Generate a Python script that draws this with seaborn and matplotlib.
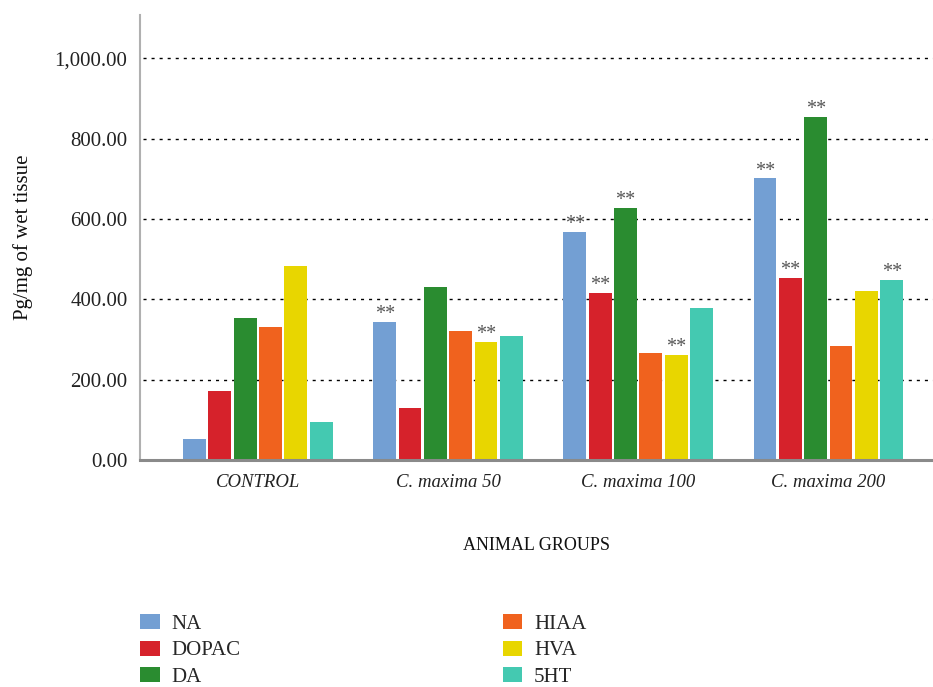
import matplotlib
matplotlib.use("Agg")
import matplotlib.pyplot as plt
import seaborn as sns
import pandas as pd
from matplotlib.patches import Patch

# Animal groups and measured neurotransmitters (pg/mg of wet tissue)
groups = ["CONTROL", "C. maxima 50", "C. maxima 100", "C. maxima 200"]
transmitters = ["NA", "DOPAC", "DA", "HIAA", "HVA", "5HT"]

na_vals = [53, 344, 568, 701]
dopac_vals = [172, 129, 417, 454]
da_vals = [354, 431, 627, 853]
hiaa_vals = [331, 321, 266, 285]
hva_vals = [484, 295, 262, 421]
ht5_vals = [94, 310, 378, 449]

# Significance marks (group, transmitter)
significant = [
    ("C. maxima 50", "NA"), ("C. maxima 50", "HVA"),
    ("C. maxima 100", "NA"), ("C. maxima 100", "DOPAC"),
    ("C. maxima 100", "DA"), ("C. maxima 100", "HVA"),
    ("C. maxima 200", "NA"), ("C. maxima 200", "DOPAC"),
    ("C. maxima 200", "DA"), ("C. maxima 200", "5HT"),
]

colors = ["#739FD3", "#D6222B", "#2A8C30", "#F0621E", "#E8D600", "#44C9B1"]

series = [na_vals, dopac_vals, da_vals, hiaa_vals, hva_vals, ht5_vals]
df = pd.DataFrame(
    [(g, t, vals[i]) for t, vals in zip(transmitters, series) for i, g in enumerate(groups)],
    columns=["group", "transmitter", "value"],
)

sns.set_theme(style="white")
plt.rcParams["font.family"] = ["Liberation Serif", "DejaVu Serif"]

fig = plt.figure(figsize=(9.33, 6.87), dpi=100)
ax = fig.add_axes([0.150, 0.3304, 0.850, 0.6478])

sns.barplot(
    data=df, x="group", y="value", hue="transmitter",
    order=groups, hue_order=transmitters, palette=colors,
    width=0.8, gap=0.1, linewidth=0, saturation=1, legend=False, ax=ax,
)

ax.set_xlim(-0.62, 3.55)
ax.set_ylim(0, 1108)
ax.set_yticks([0, 200, 400, 600, 800, 1000])
ax.set_yticklabels([f"{v:,.2f}" for v in [0, 200, 400, 600, 800, 1000]], fontsize=15)
ax.set_xticks(range(len(groups)))
ax.set_xticklabels(groups, fontsize=13.5, fontstyle="italic")
ax.tick_params(axis="both", length=0, colors="#222222")
ax.tick_params(axis="y", pad=9)
ax.tick_params(axis="x", pad=10)

for v in [200, 400, 600, 800, 1000]:
    ax.axhline(v, xmin=0.004, color="black", lw=1.0, ls=(0, (2.2, 3.6)), zorder=0)

for side in ["top", "right"]:
    ax.spines[side].set_visible(False)
ax.spines["left"].set_color("#b0b0b0")
ax.spines["left"].set_linewidth(1.5)
ax.spines["bottom"].set_color("#8a8a8a")
ax.spines["bottom"].set_linewidth(2.2)
ax.spines["bottom"].set_zorder(5)

ax.set_xlabel("ANIMAL GROUPS", fontsize=13, color="#111111")
ax.xaxis.set_label_coords(0.5, -0.172)
ax.set_ylabel("Pg/mg of wet tissue", fontsize=15, color="#111111")
ax.yaxis.label.set_va("center")
ax.yaxis.set_label_coords(-0.148, 0.5)

# Significance asterisks above the marked bars
for t_idx, container in enumerate(ax.containers):
    t = transmitters[t_idx]
    for g_idx, bar in enumerate(container):
        if (groups[g_idx], t) in significant:
            ax.annotate(
                "**", (bar.get_x() + bar.get_width() / 2, bar.get_height()),
                xytext=(0, -1.5), textcoords="offset points",
                ha="center", va="bottom", fontsize=14.5, color="#555555",
            )

handles = [Patch(facecolor=c, edgecolor="none") for c in colors]
fig.legend(
    handles, transmitters, ncol=2, loc="upper left",
    bbox_to_anchor=(0.150, 1 - 614 / 687), frameon=False,
    fontsize=15, handlelength=0.95, handleheight=0.75,
    handletextpad=0.55, columnspacing=12.6, labelspacing=0.32,
    borderpad=0, borderaxespad=0,
)

fig.savefig("out.png", dpi=100)
